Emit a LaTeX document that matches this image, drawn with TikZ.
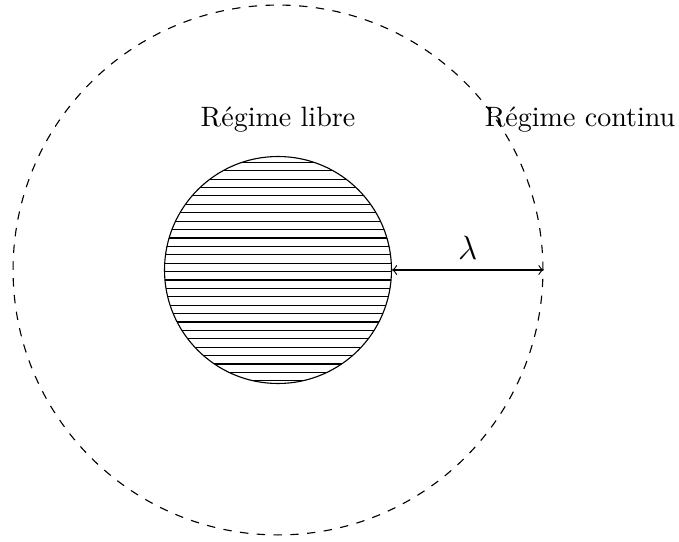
\documentclass[tikz,border=0pt]{standalone}
\usetikzlibrary{patterns}
\begin{document}
\begin{tikzpicture}[x=0.01254cm,y=-0.01254cm,
  particle/.style={circle,draw,inner sep=0pt,minimum size=2.847cm,pattern=horizontal lines},
  regime/.style={circle,draw,dashed,inner sep=0pt,minimum size=6.646cm},
  label/.style={inner sep=1pt}]
\useasboundingbox (0,0) rectangle (679,542);
\node[regime] (outer) at (278,270) {};
\node[particle] (inner) at (278,270) {};
\node[label] (libre) at (278,120) {Régime libre};
\node[label] (continu) at (580,120) {Régime continu};
\draw[<->] (inner.east) -- node[above=0.3pt] (lam) {\large$\lambda$} (outer.east);
\end{tikzpicture}
\end{document}
